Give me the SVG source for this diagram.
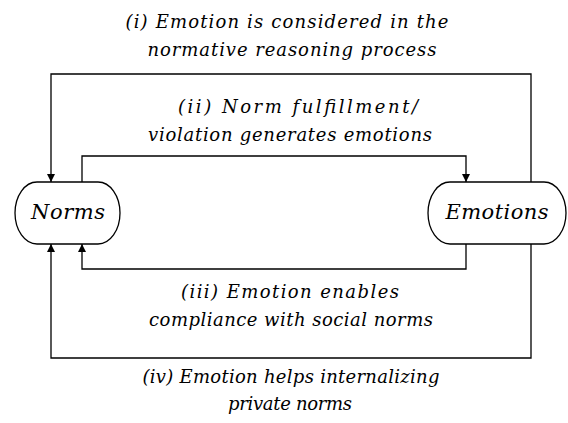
<svg xmlns="http://www.w3.org/2000/svg" width="568" height="423" viewBox="0 0 568 423">
<defs>
<marker id="arr" viewBox="0 0 10 10" refX="10" refY="5" markerWidth="8" markerHeight="8" markerUnits="userSpaceOnUse" orient="auto">
<path d="M0,0 L10,5 L0,10 Z" fill="#000"/>
</marker>
<style>
.node{fill:#fff;stroke:#000;stroke-width:1.3}
.edge{fill:none;stroke:#000;stroke-width:1.3;marker-end:url(#arr)}
.lbl{font-family:'DejaVu Serif',serif;font-style:italic;font-size:18px;fill:#000;text-anchor:middle}
.ntxt{font-family:'DejaVu Serif',serif;font-style:italic;font-size:21px;fill:#000;text-anchor:middle}
</style>
</defs>
<rect width="568" height="423" fill="#fff"/>
<g id="connectors">
<path class="edge" d="M531,182 V74 H51 V182"/>
<path class="edge" d="M82,182 V156 H466 V182"/>
<path class="edge" d="M466,244 V269 H82 V244"/>
<path class="edge" d="M531,244 V358 H51 V244"/>
</g>
<g id="norms">
<rect class="node" x="15" y="182" width="105" height="62" rx="22" ry="31"/>
<text class="ntxt" x="68" y="219" textLength="74" lengthAdjust="spacing">Norms</text>
</g>
<g id="emotions">
<rect class="node" x="428" y="182" width="138" height="62" rx="22" ry="31"/>
<text class="ntxt" x="497" y="219" textLength="103" lengthAdjust="spacing">Emotions</text>
</g>
<g id="labels">
<text class="lbl" x="287" y="28" textLength="323" lengthAdjust="spacing">(i) Emotion is considered in the</text>
<text class="lbl" x="292" y="56" textLength="289" lengthAdjust="spacing">normative reasoning process</text>
<text class="lbl" x="298" y="113" textLength="240" lengthAdjust="spacing">(ii) Norm fulfillment/</text>
<text class="lbl" x="290" y="141" textLength="284" lengthAdjust="spacing">violation generates emotions</text>
<text class="lbl" x="290" y="298" textLength="218" lengthAdjust="spacing">(iii) Emotion enables</text>
<text class="lbl" x="291" y="326" textLength="284" lengthAdjust="spacing">compliance with social norms</text>
<text class="lbl" x="291" y="383" textLength="297" lengthAdjust="spacing">(iv) Emotion helps internalizing</text>
<text class="lbl" x="290" y="410" textLength="124" lengthAdjust="spacing">private norms</text>
</g>
</svg>
